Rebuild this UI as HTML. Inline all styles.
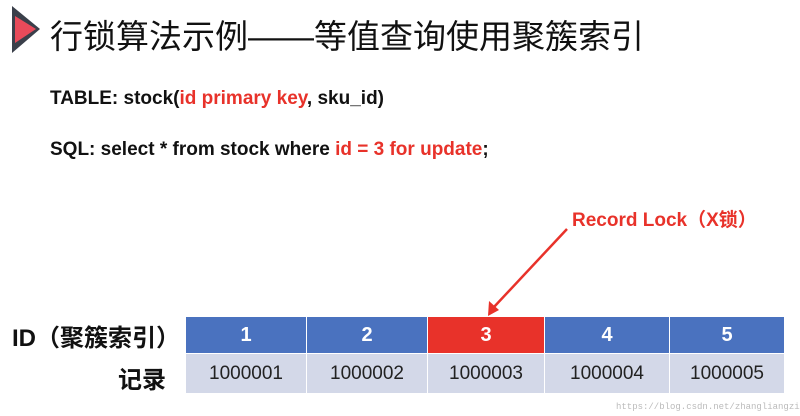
<!DOCTYPE html>
<html><head><meta charset="utf-8"><style>
body{margin:0;width:800px;height:416px;background:#fff;position:relative;overflow:hidden;font-family:"Liberation Sans","Noto Sans CJK SC",sans-serif}
.a{position:absolute;white-space:nowrap}
.r{color:#e8322a}
td{padding:0;text-align:center;border:1px solid #fff}
</style></head><body>
<svg class="a" style="left:0;top:0" width="800" height="416">
<polygon points="12,6 40,29 12,53" fill="#3a3f4a"/>
<polygon points="15,16 36,29 15,43" fill="#e84a5a"/>
<line x1="567" y1="229" x2="494" y2="307" stroke="#e8322a" stroke-width="2.5"/>
<polygon points="488,316 489,301 499,310" fill="#e8322a"/>
</svg>
<div class="a" style="left:50px;top:10px;font-size:33px;color:#111">行锁算法示例——等值查询使用聚簇索引</div>
<div class="a" style="left:50px;top:88px;font-size:19px;font-weight:bold;color:#111">TABLE: stock(<span class="r">id primary key</span>, sku_id)</div>
<div class="a" style="left:50px;top:139px;font-size:19px;font-weight:bold;color:#111">SQL: select * from stock where <span class="r">id = 3 for update</span>;</div>
<div class="a r" style="left:572px;top:205px;font-size:19px;font-weight:bold">Record Lock（X锁）</div>
<div class="a" style="left:12px;top:318px;font-size:24px;font-weight:bold;color:#111">ID（聚簇索引）</div>
<div class="a" style="left:118px;top:360px;font-size:24px;font-weight:bold;color:#111">记录</div>
<table class="a" style="left:185px;top:316px;border-collapse:collapse;width:600px">
<tr style="height:37px;color:#fff;font-weight:bold;font-size:20px">
<td style="background:#4a72bf;width:120px">1</td><td style="background:#4a72bf;width:120px">2</td><td style="background:#e8322a;width:116px">3</td><td style="background:#4a72bf;width:124px">4</td><td style="background:#4a72bf">5</td></tr>
<tr style="height:40px;background:#d3d8e8;font-size:19px;color:#222">
<td>1000001</td><td>1000002</td><td>1000003</td><td>1000004</td><td>1000005</td></tr>
</table>
<div class="a" style="left:616px;top:402px;font-size:9px;color:#bbb;font-family:'Liberation Mono',monospace">https://blog.csdn.net/zhangliangzi</div>
</body></html>
